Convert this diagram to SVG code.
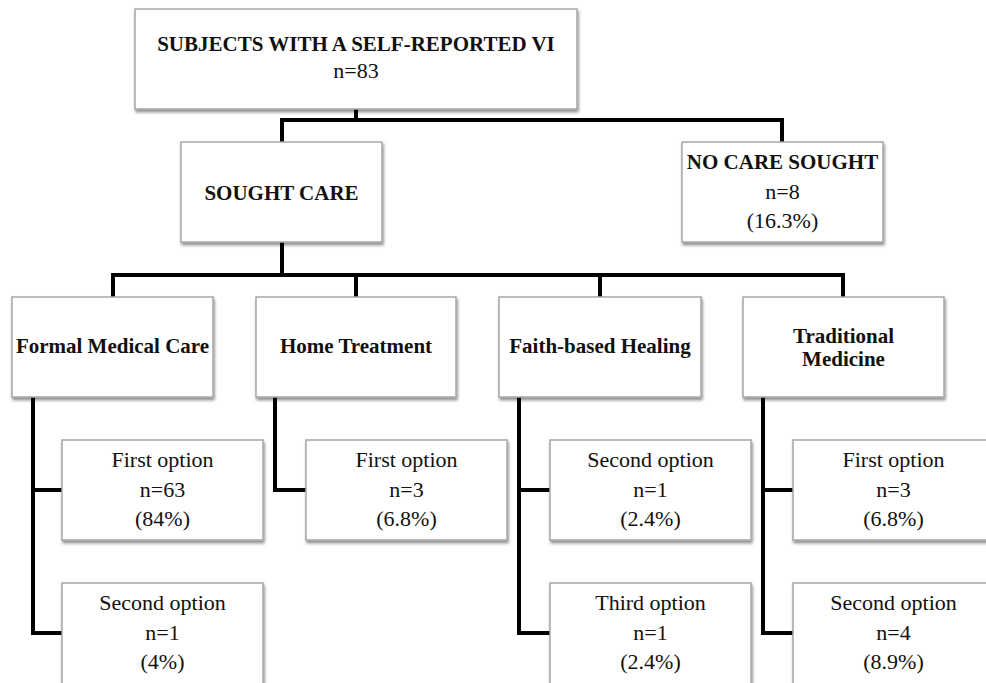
<svg xmlns="http://www.w3.org/2000/svg" width="986" height="683" viewBox="0 0 986 683">
<defs>
<filter id="sh" x="-10%" y="-10%" width="130%" height="140%">
<feDropShadow dx="1" dy="2.5" stdDeviation="1.5" flood-color="#000" flood-opacity="0.45"/>
</filter>
<style>
.box{fill:#fff;stroke:#a6a6a6;stroke-width:1.5;filter:url(#sh)}
.b{font-family:"Liberation Serif","Times New Roman",serif;font-weight:bold;font-size:21px;fill:#111;text-anchor:middle}
.r{font-family:"Liberation Serif","Times New Roman",serif;font-size:22px;fill:#111;text-anchor:middle}
.c{fill:none;stroke:#000;stroke-width:4;stroke-linejoin:miter;stroke-linecap:square}
</style>
</defs>
<rect width="986" height="683" fill="#fff"/>
<g id="connectors">
<path class="c" d="M356,110 V120 M282,120 H782 M282,120 V141 M782,120 V141"/>
<path class="c" d="M282,243 V275 M113,275 H843 M113,275 V296 M356,275 V296 M600,275 V296 M843,275 V296"/>
<path class="c" d="M33,398 V633 H61 M33,490 H61"/>
<path class="c" d="M275,398 V490 H305"/>
<path class="c" d="M519,398 V633 H549 M519,490 H549"/>
<path class="c" d="M763,398 V633 H792 M763,490 H792"/>
</g>
<g id="root">
<rect class="box" x="135" y="9" width="442" height="100"/>
<text class="b" x="356" y="51">SUBJECTS WITH A SELF-REPORTED VI</text>
<text class="r" x="356" y="78">n=83</text>
</g>
<g id="sought-care">
<rect class="box" x="181" y="142" width="201" height="100"/>
<text class="b" x="281.5" y="200">SOUGHT CARE</text>
</g>
<g id="no-care">
<rect class="box" x="682" y="142" width="201" height="100"/>
<text class="b" x="782.5" y="169">NO CARE SOUGHT</text>
<text class="r" x="782.5" y="199">n=8</text>
<text class="r" x="782.5" y="228">(16.3%)</text>
</g>
<g id="formal">
<rect class="box" x="12" y="297" width="201" height="100"/>
<text class="b" x="112.5" y="353">Formal Medical Care</text>
</g>
<g id="home">
<rect class="box" x="256" y="297" width="200" height="100"/>
<text class="b" x="356" y="353">Home Treatment</text>
</g>
<g id="faith">
<rect class="box" x="499" y="297" width="202" height="100"/>
<text class="b" x="600" y="353">Faith-based Healing</text>
</g>
<g id="traditional">
<rect class="box" x="743" y="297" width="201" height="100"/>
<text class="b" x="843.5" y="343">Traditional</text>
<text class="b" x="843.5" y="366">Medicine</text>
</g>
<g id="formal-1">
<rect class="box" x="62" y="440" width="201" height="100"/>
<text class="r" x="162.5" y="467">First option</text>
<text class="r" x="162.5" y="497">n=63</text>
<text class="r" x="162.5" y="526">(84%)</text>
</g>
<g id="formal-2">
<rect class="box" x="62" y="583" width="201" height="110"/>
<text class="r" x="162.5" y="610">Second option</text>
<text class="r" x="162.5" y="640">n=1</text>
<text class="r" x="162.5" y="669">(4%)</text>
</g>
<g id="home-1">
<rect class="box" x="306" y="440" width="201" height="100"/>
<text class="r" x="406.5" y="467">First option</text>
<text class="r" x="406.5" y="497">n=3</text>
<text class="r" x="406.5" y="526">(6.8%)</text>
</g>
<g id="faith-2">
<rect class="box" x="550" y="440" width="201" height="100"/>
<text class="r" x="650.5" y="467">Second option</text>
<text class="r" x="650.5" y="497">n=1</text>
<text class="r" x="650.5" y="526">(2.4%)</text>
</g>
<g id="faith-3">
<rect class="box" x="550" y="583" width="201" height="110"/>
<text class="r" x="650.5" y="610">Third option</text>
<text class="r" x="650.5" y="640">n=1</text>
<text class="r" x="650.5" y="669">(2.4%)</text>
</g>
<g id="trad-1">
<rect class="box" x="793" y="440" width="201" height="100"/>
<text class="r" x="893.5" y="467">First option</text>
<text class="r" x="893.5" y="497">n=3</text>
<text class="r" x="893.5" y="526">(6.8%)</text>
</g>
<g id="trad-2">
<rect class="box" x="793" y="583" width="201" height="110"/>
<text class="r" x="893.5" y="610">Second option</text>
<text class="r" x="893.5" y="640">n=4</text>
<text class="r" x="893.5" y="669">(8.9%)</text>
</g>
</svg>
